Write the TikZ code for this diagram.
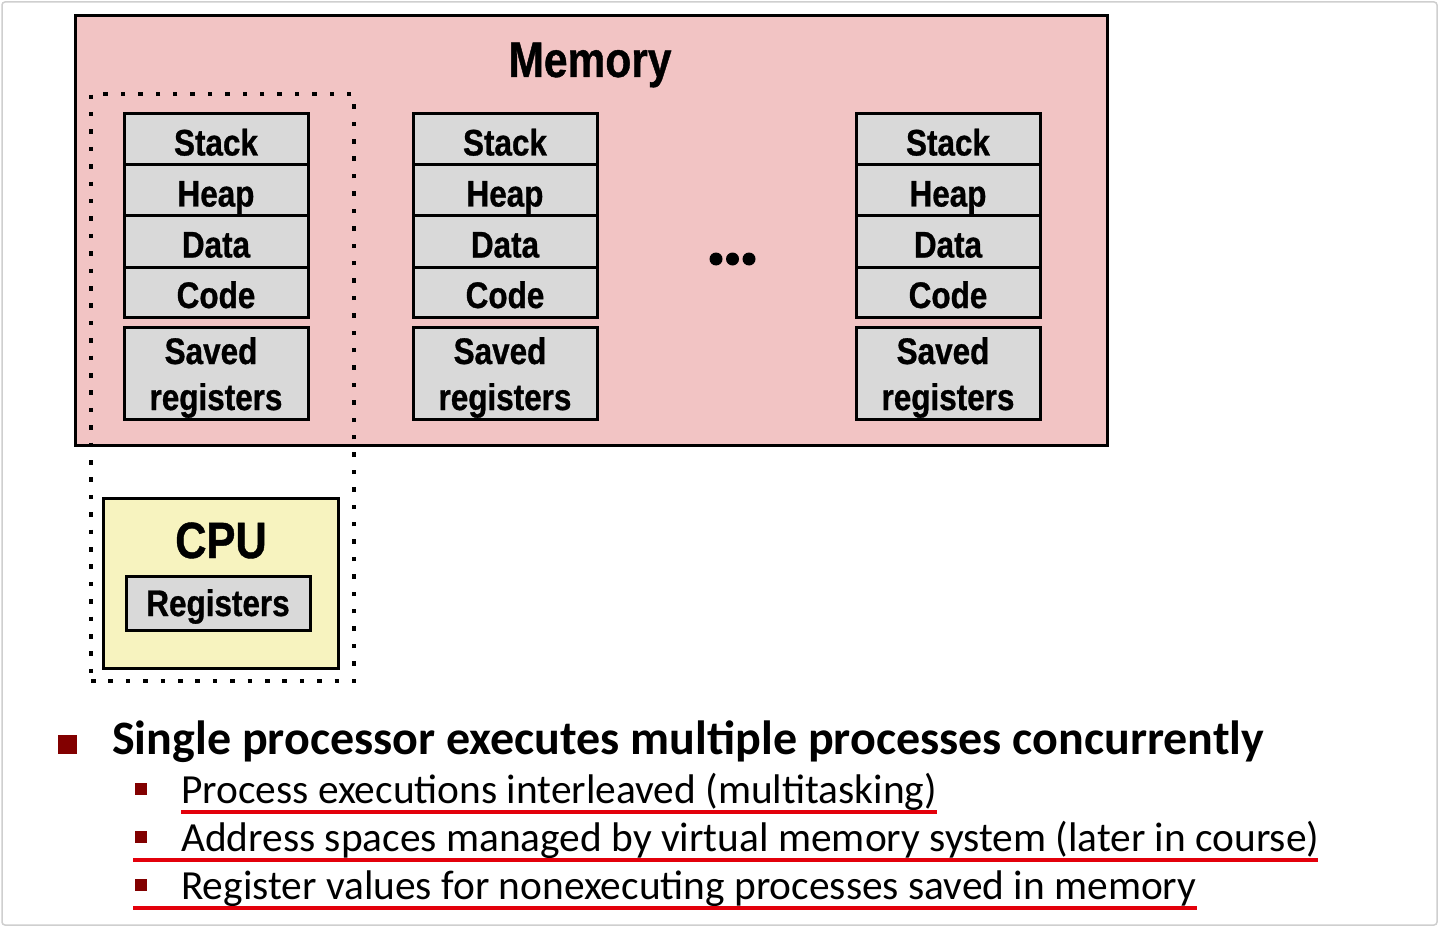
\documentclass[tikz,border=0pt]{standalone}
\usepackage{fontspec}
\newfontfamily\narrowbf[FakeStretch=0.85,FakeBold=0.8]{Liberation Sans Bold}
\newfontfamily\carlito{Carlito}
\definecolor{mempink}{HTML}{F2C4C4}
\definecolor{seggray}{HTML}{D9D9D9}
\definecolor{cpuyellow}{HTML}{F7F3BF}
\definecolor{framegray}{HTML}{CFCFCF}
\definecolor{bulletred}{HTML}{820000}
\definecolor{squigred}{HTML}{E3000B}
\tikzset{
  boxline/.style={draw=black, line width=3pt, inner sep=0pt},
  seg/.style={boxline, fill=seggray, minimum width=184pt, minimum height=51pt,
    text height=32pt, text depth=0pt, font=\narrowbf\fontsize{37}{44}\selectfont},
  regbox/.style={boxline, fill=seggray, minimum width=184pt, minimum height=92pt},
  lbl/.style={inner sep=0pt, anchor=base, font=\narrowbf\fontsize{37}{44}\selectfont},
  dotbox/.style={draw=black, line width=4.5pt, dash pattern=on 4.5pt off 12.9pt, inner sep=0pt},
  bigdot/.style={circle, fill=black, inner sep=0pt, minimum size=13pt},
  mainbullet/.style={fill=bulletred, inner sep=0pt, minimum size=19pt},
  subbullet/.style={fill=bulletred, inner sep=0pt, minimum size=12pt},
  maintext/.style={inner sep=0pt, anchor=base west, font=\carlito\bfseries\fontsize{48}{50}\selectfont},
  subtext/.style={inner sep=0pt, anchor=base west, font=\carlito\fontsize{41.4}{44}\selectfont},
  squig/.style={draw=squigred, line width=3.2pt}
}
\begin{document}
\begin{tikzpicture}[x=1pt,y=-1pt]
\useasboundingbox (0,0) rectangle (1440,928);
\fill[white] (0,0) rectangle (1440,928);
\draw[framegray, line width=1.5pt, rounded corners=3pt] (2,2) rectangle (1437,925);

% Memory
\node[boxline, fill=mempink, minimum width=1032pt, minimum height=429pt] (mem) at (591,230.5) {};
\node[lbl, font=\narrowbf\fontsize{50}{56}\selectfont] (memtitle) at (590,77) {Memory};

% process 1 dotted region
\node[dotbox, minimum width=263pt, minimum height=587pt] (proc) at (222.5,387.5) {};

% columns
\foreach \c/\x in {a/216, b/505, c/948} {
  \node[seg] (stack\c) at (\x,139.5) {Stack};
  \node[seg] (heap\c) at (\x,190.5) {Heap};
  \node[seg] (data\c) at (\x,241.5) {Data};
  \node[seg, minimum height=50pt] (code\c) at (\x,292) {Code};
  \node[regbox] (saved\c) at (\x,373) {};
  \node[lbl] (savedt\c) at (\x-5,364) {Saved};
  \node[lbl] (regt\c) at (\x,410) {registers};
}

% ellipsis
\node[bigdot] (d1) at (716,259) {};
\node[bigdot] (d2) at (732.5,259) {};
\node[bigdot] (d3) at (749,259) {};

% CPU
\node[boxline, fill=cpuyellow, minimum width=235pt, minimum height=170pt] (cpu) at (220.5,583) {};
\node[lbl, font=\narrowbf\fontsize{51}{56}\selectfont] (cputitle) at (221,558) {CPU};
\node[boxline, fill=seggray, minimum width=184pt, minimum height=54pt] (cpureg) at (218,603) {};
\node[lbl] (cpuregt) at (218,616) {Registers};

% bullets
\node[mainbullet] (b0) at (67,744) {};
\node[maintext] (t0) at (112,754) {Single processor executes multiple processes concurrently};
\node[subbullet] (b1) at (141,789) {};
\node[subbullet] (b2) at (141,837) {};
\node[subbullet] (b3) at (141,885) {};
\node[subtext] (t1) at (181,803) {Process executions interleaved (multitasking)};
\node[subtext] (t2) at (181,851) {Address spaces managed by virtual memory system (later in course)};
\node[subtext] (t3) at (181,899) {Register values for nonexecuting processes saved in memory};
\coordinate (u1a) at (181,812); \coordinate (u1b) at (937,812);
\coordinate (u2a) at (133,860); \coordinate (u2b) at (1318,860);
\coordinate (u3a) at (133,908); \coordinate (u3b) at (1197,908);
\draw[squig] (u1a) -- (u1b);
\draw[squig] (u2a) -- (u2b);
\draw[squig] (u3a) -- (u3b);
\end{tikzpicture}
\end{document}
